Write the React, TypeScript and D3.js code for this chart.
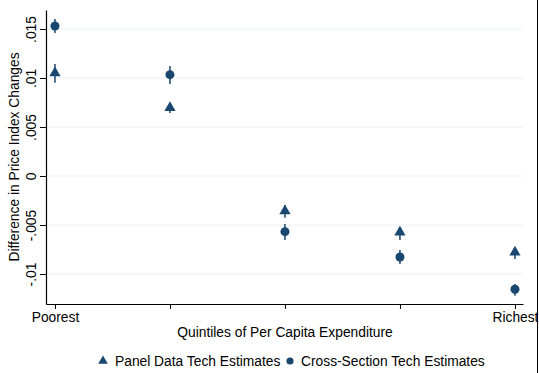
import * as d3 from 'd3';
import React, { useEffect, useRef } from 'react';

const quintiles = [1, 2, 3, 4, 5];
const xTickLabels = ['Poorest', '', '', '', 'Richest'];
const yTicks = [-0.01, -0.005, 0, 0.005, 0.01, 0.015];

const panelEst = [0.0105, 0.00697, -0.00357, -0.00575, -0.00779];
const panelLo = [0.00952, 0.00643, -0.00426, -0.00653, -0.00847];
const panelHi = [0.01143, 0.00745, -0.00296, -0.0052, -0.00735];

const crossEst = [0.01531, 0.01034, -0.00568, -0.00827, -0.01156];
const crossLo = [0.01459, 0.00939, -0.00653, -0.00898, -0.01221];
const crossHi = [0.01602, 0.01122, -0.0049, -0.00755, -0.01102];

const W = 539;
const H = 373;
const navy = '#1a476f';
const font = 'Liberation Sans, Arial, sans-serif';
const fs = 13.8;

const fmt = (v: number) => {
  if (v === 0) return '0';
  const s = String(Math.round(v * 1000) / 1000);
  return s.replace('0.', '.');
};

const App = () => {
  const svgRef = useRef<SVGSVGElement | null>(null);

  useEffect(() => {
    const svg = d3.select(svgRef.current);
    svg.selectAll('*').remove();

    const x = d3.scaleLinear().domain([0.922, 5.07]).range([46, 523]);
    const y = d3.scaleLinear().domain([-0.01306, 0.01694]).range([304, 10]);

    // grid
    svg.append('g')
      .selectAll('line')
      .data(yTicks)
      .join('line')
      .attr('x1', 46)
      .attr('x2', 523)
      .attr('y1', (d) => y(d))
      .attr('y2', (d) => y(d))
      .attr('stroke', '#eaf2f3')
      .attr('stroke-width', 1);

    // y axis
    const yAxis = svg.append('g')
      .attr('transform', 'translate(46,0)')
      .call(d3.axisLeft(y).tickValues(yTicks).tickSize(6).tickSizeOuter(0).tickFormat((d) => fmt(+d)));
    yAxis.select('.domain').attr('stroke', '#000').attr('stroke-width', 1.2);
    yAxis.selectAll('.tick line').attr('stroke', '#000');
    yAxis.selectAll('.tick text')
      .attr('transform', 'translate(-10.5,0) rotate(-90)')
      .attr('x', 0)
      .attr('dy', '0')
      .attr('text-anchor', 'middle')
      .attr('font-family', font)
      .attr('font-size', fs)
      .attr('fill', '#000');

    // x axis
    const xAxis = svg.append('g')
      .attr('transform', 'translate(0,304)')
      .call(d3.axisBottom(x).tickValues(quintiles).tickSize(5).tickSizeOuter(0).tickFormat((d, i) => xTickLabels[i]));
    xAxis.select('.domain').attr('stroke', '#000').attr('stroke-width', 1.2);
    xAxis.selectAll('.tick line').attr('stroke', '#000');
    xAxis.selectAll('.tick text')
      .attr('y', 8)
      .attr('font-family', font)
      .attr('font-size', fs)
      .attr('fill', '#000');

    // titles
    svg.append('text')
      .attr('transform', `translate(19,${(10 + 304) / 2}) rotate(-90)`)
      .attr('text-anchor', 'middle')
      .attr('font-family', font)
      .attr('font-size', fs)
      .text('Difference in Price Index Changes');

    svg.append('text')
      .attr('x', 285)
      .attr('y', 337)
      .attr('text-anchor', 'middle')
      .attr('font-family', font)
      .attr('font-size', fs)
      .text('Quintiles of Per Capita Expenditure');

    // error bars
    const bars = (lo: number[], hi: number[]) =>
      svg.append('g')
        .selectAll('line')
        .data(quintiles)
        .join('line')
        .attr('x1', (d) => x(d))
        .attr('x2', (d) => x(d))
        .attr('y1', (d, i) => y(lo[i]))
        .attr('y2', (d, i) => y(hi[i]))
        .attr('stroke', navy)
        .attr('stroke-width', 1.5);
    bars(panelLo, panelHi);
    bars(crossLo, crossHi);

    const tri = d3.symbol().type(d3.symbolTriangle).size(55);
    const circ = d3.symbol().type(d3.symbolCircle).size(64);

    svg.append('g')
      .selectAll('path')
      .data(quintiles)
      .join('path')
      .attr('d', tri)
      .attr('transform', (d, i) => `translate(${x(d)},${y(panelEst[i])})`)
      .attr('fill', navy);

    svg.append('g')
      .selectAll('path')
      .data(quintiles)
      .join('path')
      .attr('d', circ)
      .attr('transform', (d, i) => `translate(${x(d)},${y(crossEst[i])})`)
      .attr('fill', navy);

    // legend
    const leg = svg.append('g').attr('font-family', font).attr('font-size', fs);
    leg.append('path')
      .attr('d', d3.symbol().type(d3.symbolTriangle).size(40)())
      .attr('transform', 'translate(103,361)')
      .attr('fill', navy);
    leg.append('text').attr('x', 115).attr('y', 366).text('Panel Data Tech Estimates');
    leg.append('path')
      .attr('d', d3.symbol().type(d3.symbolCircle).size(40)())
      .attr('transform', 'translate(290,361)')
      .attr('fill', navy);
    leg.append('text').attr('x', 301).attr('y', 366).text('Cross-Section Tech Estimates');

    // right border of image
    svg.append('line')
      .attr('x1', 537.5)
      .attr('x2', 537.5)
      .attr('y1', 0)
      .attr('y2', H)
      .attr('stroke', '#000')
      .attr('stroke-width', 1);
  }, []);

  return (
    <svg
      ref={svgRef}
      width={W}
      height={H}
      style={{ position: 'absolute', left: 0, top: 0, background: '#fff', overflow: 'hidden' }}
    />
  );
};

export default App;
